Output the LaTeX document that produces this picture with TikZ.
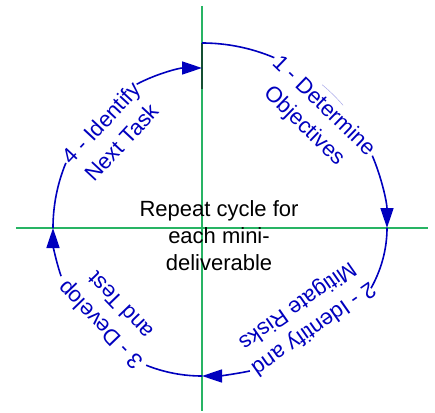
\documentclass[tikz,border=0pt]{standalone}
\usepackage{fontspec}
\setmainfont{Liberation Sans}
\usetikzlibrary{arrows.meta}
\definecolor{cycblue}{RGB}{0,0,190}
\definecolor{axisgreen}{RGB}{40,180,100}
\definecolor{axisdark}{RGB}{20,80,50}

\begin{document}
\begin{tikzpicture}[x=1pt,y=1pt,
  every node/.append style={inner sep=0pt},
  axis/.style={axisgreen,line width=1.6pt},
  cyc/.style={cycblue,line width=1.6pt},
  tip/.style={-{Triangle[length=20pt,width=13pt]}},
  lbl/.style={cycblue,align=center,font=\fontsize{22}{28}\selectfont}]
\useasboundingbox (-202,-184) rectangle (233,228);
\coordinate (axtop) at (0,222);
\coordinate (axbot) at (0,-183);
\coordinate (axleft) at (-186,0);
\coordinate (axright) at (226,0);
\draw [axis] (axtop) -- (axbot);
\draw [axis] (axleft) -- (axright);
\coordinate (top) at (0,185);
\coordinate (mark) at (0,139);
\draw [axisdark,line width=1.6pt] (top) -- (mark);
\coordinate (right) at (185,0);
\coordinate (bottom) at (0,-148);
\coordinate (left) at (-149,0);
\coordinate (g1) at (23:185);
\coordinate (g2) at ({185*cos(-75)},{148*sin(-75)});
\coordinate (g3) at ({149*cos(-161)},{148*sin(-161)});
\coordinate (g4) at ({149*cos(116)},{160*sin(116)});
\draw [cyc] (top) arc[start angle=90,end angle=67,radius=185];
\draw [cyc,tip] (g1) arc[start angle=23,end angle=0,radius=185];
\draw [cycblue!35,line width=0.5pt] (50:187) arc[start angle=50,end angle=41,radius=187];
\draw [cyc] (right) arc[start angle=0,end angle=-24,x radius=185,y radius=148];
\draw [cyc,tip] (g2) arc[start angle=-75,end angle=-90,x radius=185,y radius=148];
\draw [cyc] (bottom) arc[start angle=-90,end angle=-112,x radius=149,y radius=148];
\draw [cyc,tip] (g3) arc[start angle=-161,end angle=-180,x radius=149,y radius=148];
\draw [cyc] (left) arc[start angle=180,end angle=156,x radius=149,y radius=160];
\draw [cyc,tip] (g4) arc[start angle=116,end angle=90,x radius=149,y radius=160];
\node [lbl,rotate=-44] (objectives) at (111.5,111.5) {1 - Determine\\Objectives};
\node [lbl,rotate=215] (risks) at (103,-88.5) {2 - Identify and\\Mitigate Risks};
\node [lbl,rotate=134] (develop) at (-92,-87.5) {3 - Develop\\and Test};
\node [lbl,rotate=47] (nexttask) at (-90.5,95.5) {4 - Identify\\Next Task};
\node [align=center,font=\fontsize{22}{27}\selectfont] (repeat) at (17,-8) {Repeat cycle for\\each mini-\\deliverable};
\end{tikzpicture}
\end{document}
